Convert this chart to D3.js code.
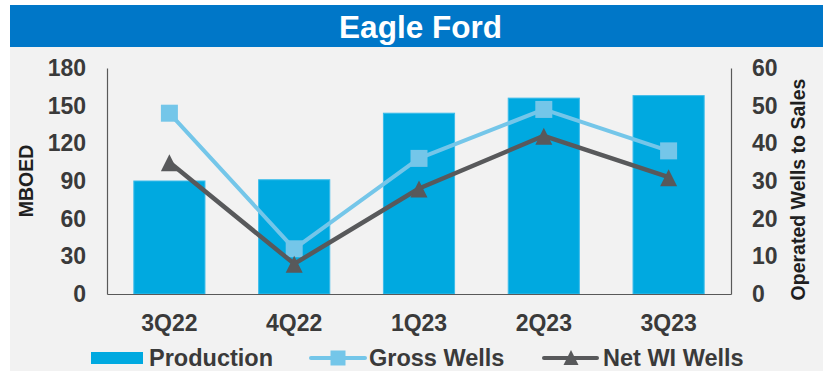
<!DOCTYPE html>
<html>
<head>
<meta charset="utf-8">
<script src="https://cdn.jsdelivr.net/npm/d3@7"></script>
<style>
  html, body { margin: 0; padding: 0; background: #ffffff; }
  svg { display: block; font-family: "Liberation Sans", Arial, sans-serif; }
</style>
</head>
<body>
<svg id="chart" width="823" height="371"></svg>
<script>
// Quarterly Eagle Ford production and wells turned to sales
const quarters = ["3Q22", "4Q22", "1Q23", "2Q23", "3Q23"];
const production = [90, 91, 144, 156, 158];   // MBOED (left axis)
const grossWells = [48, 12, 36, 49, 38];      // wells (right axis)
const netWells = [35, 8, 28, 42, 31];         // wells (right axis)
const leftTicks = [0, 30, 60, 90, 120, 150, 180];
const rightTicks = [0, 10, 20, 30, 40, 50, 60];
const seriesNames = ["Production", "Gross Wells", "Net WI Wells"];

const colors = {
  header: "#0077c8",
  panel: "#f2f2f2",
  bar: "#00a9e0",
  gross: "#74c6e9",
  net: "#58595b",
  axis: "#595959",
  tick: "#3a3a3a",
  title: "#1f1f1f"
};

const svg = d3.select("#chart");

// panel background and header band
svg.append("rect").attr("x", 10).attr("y", 47).attr("width", 813).attr("height", 324)
  .attr("fill", colors.panel);
svg.append("rect").attr("x", 10).attr("y", 5).attr("width", 813).attr("height", 42)
  .attr("fill", colors.header);
svg.append("text").attr("x", 420.5).attr("y", 38).attr("text-anchor", "middle")
  .attr("fill", "#ffffff").attr("font-weight", "bold").attr("font-size", 31.5)
  .text("Eagle Ford");

const plot = { left: 107, right: 731, top: 68, bottom: 294 };

const x = d3.scaleBand().domain(quarters)
  .range([plot.left, plot.right]).paddingInner(0.43).paddingOuter(0.215);
const yL = d3.scaleLinear().domain([0, 180]).range([plot.bottom, plot.top]);
const yR = d3.scaleLinear().domain([0, 60]).range([plot.bottom, plot.top]);

// bars
svg.append("g").selectAll("rect").data(production).join("rect")
  .attr("x", (d, i) => x(quarters[i]))
  .attr("y", d => yL(d))
  .attr("width", x.bandwidth())
  .attr("height", d => yL(0) - yL(d))
  .attr("fill", colors.bar)
  .attr("stroke", "#3dbcea").attr("stroke-width", 1);

// axes
function styleAxis(g, size) {
  g.select(".domain").attr("stroke", colors.axis).attr("stroke-width", 1.2);
  g.selectAll(".tick line").remove();
  g.selectAll("text").attr("fill", colors.tick).attr("font-size", size)
    .attr("font-weight", "bold").attr("font-family", "Liberation Sans, Arial, sans-serif");
}

svg.append("g").attr("transform", `translate(${plot.left},0)`)
  .call(d3.axisLeft(yL).tickValues(leftTicks).tickSizeOuter(0).tickSizeInner(0).tickPadding(21))
  .call(g => styleAxis(g, 23));

svg.append("g").attr("transform", `translate(${plot.right},0)`)
  .call(d3.axisRight(yR).tickValues(rightTicks).tickSizeOuter(0).tickSizeInner(0).tickPadding(21))
  .call(g => styleAxis(g, 23));

svg.append("g").attr("transform", `translate(0,${plot.bottom})`)
  .call(d3.axisBottom(x).tickSizeOuter(0).tickSizeInner(0).tickPadding(21))
  .call(g => styleAxis(g, 23));

// axis titles
svg.append("text")
  .attr("transform", `translate(33,${(plot.top + plot.bottom) / 2}) rotate(-90)`)
  .attr("text-anchor", "middle").attr("font-weight", "bold").attr("font-size", 19.5)
  .attr("fill", colors.title).text("MBOED");
svg.append("text")
  .attr("transform", `translate(805,189.5) rotate(-90)`)
  .attr("text-anchor", "middle").attr("font-weight", "bold").attr("font-size", 19.5)
  .attr("fill", colors.title).text("Operated Wells to Sales");

// lines and markers
const cx = i => x(quarters[i]) + x.bandwidth() / 2;
const line = d3.line().x((d, i) => cx(i)).y(d => yR(d));

function squarePath(s) { const h = s / 2; return `M${-h},${-h}H${h}V${h}H${-h}Z`; }
function trianglePath(w) { const h = w / 2; return `M0,${-h + 0.5}L${h},${h + 0.5}L${-h},${h + 0.5}Z`; }

svg.append("path").datum(grossWells).attr("d", line).attr("fill", "none")
  .attr("stroke", colors.gross).attr("stroke-width", 4).attr("stroke-linejoin", "round");
svg.append("g").selectAll("path").data(grossWells).join("path")
  .attr("transform", (d, i) => `translate(${cx(i)},${yR(d)})`)
  .attr("d", squarePath(17)).attr("fill", colors.gross);

svg.append("path").datum(netWells).attr("d", line).attr("fill", "none")
  .attr("stroke", colors.net).attr("stroke-width", 4.5).attr("stroke-linejoin", "round");
svg.append("g").selectAll("path").data(netWells).join("path")
  .attr("transform", (d, i) => `translate(${cx(i)},${yR(d)})`)
  .attr("d", trianglePath(17)).attr("fill", colors.net);

// legend
const legend = svg.append("g");
const legendY = 358;
legend.append("rect").attr("x", 91).attr("y", 352).attr("width", 52).attr("height", 12)
  .attr("fill", colors.bar);
legend.append("text").attr("x", 149).attr("y", 366).attr("font-weight", "bold")
  .attr("font-size", 23.5).attr("fill", colors.tick).text(seriesNames[0]);

legend.append("line").attr("x1", 311).attr("x2", 365).attr("y1", legendY).attr("y2", legendY)
  .attr("stroke", colors.gross).attr("stroke-width", 4).attr("stroke-linecap", "round");
legend.append("path").attr("transform", `translate(338,${legendY})`)
  .attr("d", squarePath(15)).attr("fill", colors.gross);
legend.append("text").attr("x", 369).attr("y", 366).attr("font-weight", "bold")
  .attr("font-size", 23.5).attr("fill", colors.tick).text(seriesNames[1]);

legend.append("line").attr("x1", 544).attr("x2", 597).attr("y1", legendY).attr("y2", legendY)
  .attr("stroke", colors.net).attr("stroke-width", 4).attr("stroke-linecap", "round");
legend.append("path").attr("transform", `translate(571,${legendY - 1})`)
  .attr("d", trianglePath(15)).attr("fill", colors.net);
legend.append("text").attr("x", 603).attr("y", 366).attr("font-weight", "bold")
  .attr("font-size", 23.5).attr("fill", colors.tick).text(seriesNames[2]);
</script>
</body>
</html>
